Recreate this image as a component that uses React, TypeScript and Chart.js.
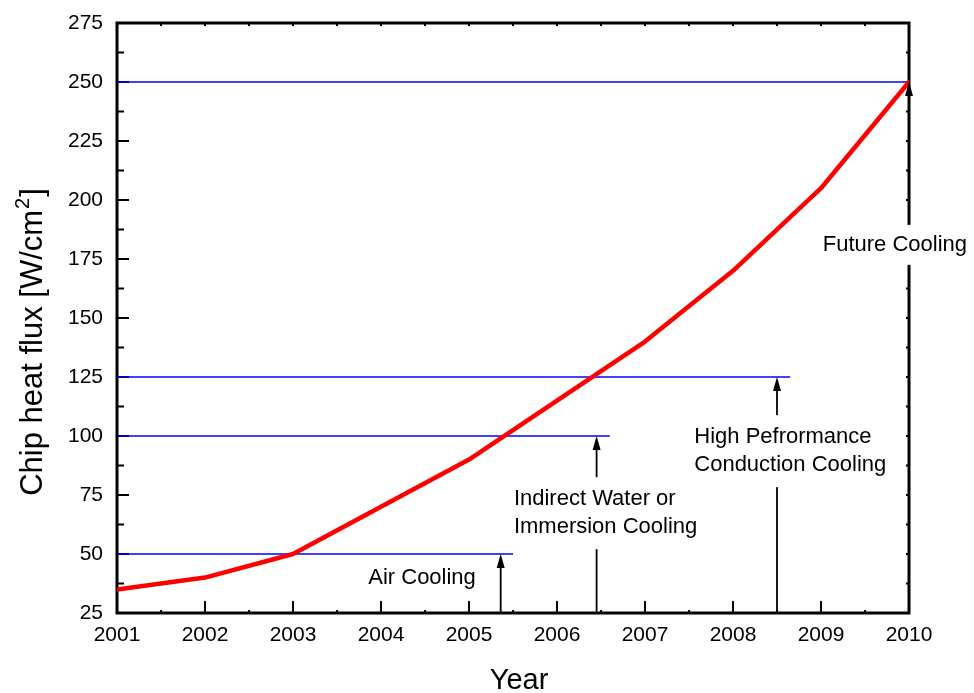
import React, { useEffect, useRef } from "react";
import { Chart, registerables } from "chart.js";

Chart.register(...registerables);

const years = [2001, 2002, 2003, 2004, 2005, 2006, 2007, 2008, 2009, 2010];
const heatFlux = [35, 40, 50, 70, 90, 115, 140, 170, 205, 250];
const fluxTicks = [25, 50, 75, 100, 125, 150, 175, 200, 225, 250, 275];

// Upper limit of each cooling technology (W/cm²) and the year its reference line runs to
const coolingLimits = [50, 100, 125, 250];
const limitLineEnds = [2005.5, 2006.6, 2008.65, 2010];
const arrowYears = [2005.36, 2006.45, 2008.5, 2010];
const coolingLabels = [
  ["Air Cooling"],
  ["Indirect Water or", "Immersion Cooling"],
  ["High Pefrormance", "Conduction Cooling"],
  ["Future Cooling"],
];
// Label anchors: left edge (year) and vertical centre (W/cm²)
const labelYears = [2003.855, 2005.51, 2007.56, 2009.02];
const labelFlux = [40, 67.3, 93.6, 181];

const FONT = "'Liberation Sans', Arial, Helvetica, sans-serif";

const seg = (ctx: any, x1: number, y1: number, x2: number, y2: number) => {
  ctx.beginPath();
  ctx.moveTo(x1, y1);
  ctx.lineTo(x2, y2);
  ctx.stroke();
};

// Frame and inward tick marks, drawn underneath the data lines
const frame = {
  id: "frame",
  beforeDatasetsDraw(chart: any) {
    const { ctx, chartArea: a, scales } = chart;
    const xs = scales.x;
    const ys = scales.y;
    ctx.save();
    ctx.strokeStyle = "#000";
    ctx.lineWidth = 2;
    fluxTicks.forEach((v, i) => {
      const py = ys.getPixelForValue(v);
      seg(ctx, a.left, py, a.left + 12, py);
      seg(ctx, a.right, py, a.right - 3, py);
      if (i < fluxTicks.length - 1) {
        const pm = ys.getPixelForValue(v + 12.5);
        seg(ctx, a.left, pm, a.left + 7, pm);
        seg(ctx, a.right, pm, a.right - 3, pm);
      }
    });
    years.forEach((yr, i) => {
      const px = xs.getPixelForValue(yr);
      seg(ctx, px, a.bottom, px, a.bottom - 12);
      seg(ctx, px, a.top, px, a.top + 3);
      if (i < years.length - 1) {
        const pm = xs.getPixelForValue(yr + 0.5);
        seg(ctx, pm, a.bottom, pm, a.bottom - 3);
        seg(ctx, pm, a.top, pm, a.top + 3);
      }
    });
    ctx.lineWidth = 3;
    ctx.strokeRect(a.left, a.top, a.right - a.left, a.bottom - a.top);
    ctx.restore();
  },
};

// Arrows, annotation labels and axis titles
const annotations = {
  id: "annotations",
  afterDatasetsDraw(chart: any) {
    const { ctx, chartArea: a, scales } = chart;
    const xs = scales.x;
    const ys = scales.y;
    ctx.save();
    ctx.strokeStyle = "#000";
    ctx.fillStyle = "#000";

    ctx.font = `22px ${FONT}`;
    ctx.textAlign = "left";
    ctx.textBaseline = "middle";
    const lineH = 28;
    coolingLimits.forEach((lim, i) => {
      const px = xs.getPixelForValue(arrowYears[i]);
      const tip = ys.getPixelForValue(lim);
      const headLen = 14;
      const headHalf = 4;
      ctx.lineWidth = 1.8;
      seg(ctx, px, a.bottom, px, tip + headLen - 1);
      ctx.beginPath();
      ctx.moveTo(px, tip);
      ctx.lineTo(px - headHalf, tip + headLen);
      ctx.lineTo(px + headHalf, tip + headLen);
      ctx.closePath();
      ctx.fill();

      const lines = coolingLabels[i];
      const left = xs.getPixelForValue(labelYears[i]);
      const cy = ys.getPixelForValue(labelFlux[i]);
      const w = Math.max(...lines.map((t) => ctx.measureText(t).width));
      if (px > left && px < left + w) {
        const half = lines.length * 16 + 4;
        ctx.fillStyle = "#fff";
        ctx.fillRect(px - 4, cy - half, 8, half * 2);
        ctx.fillStyle = "#000";
      }
      lines.forEach((t, k) => {
        ctx.fillText(t, left, cy + (k - (lines.length - 1) / 2) * lineH);
      });
    });

    ctx.textBaseline = "alphabetic";
    ctx.textAlign = "center";
    ctx.font = `29px ${FONT}`;
    ctx.fillText("Year", (a.left + a.right) / 2 + 6, 689);

    ctx.save();
    ctx.translate(42, 342);
    ctx.rotate(-Math.PI / 2);
    ctx.textAlign = "left";
    const main = "Chip heat flux [W/cm";
    const sup = "2";
    const close = "]";
    ctx.font = `31px ${FONT}`;
    const wMain = ctx.measureText(main).width;
    const wClose = ctx.measureText(close).width;
    ctx.font = `20px ${FONT}`;
    const wSup = ctx.measureText(sup).width;
    let x0 = -(wMain + wSup + wClose + 2) / 2;
    ctx.font = `31px ${FONT}`;
    ctx.fillText(main, x0, 0);
    x0 += wMain + 1;
    ctx.font = `20px ${FONT}`;
    ctx.fillText(sup, x0, -13);
    x0 += wSup + 1;
    ctx.font = `31px ${FONT}`;
    ctx.fillText(close, x0, 0);
    ctx.restore();

    ctx.restore();
  },
};

export default function App() {
  const canvasRef = useRef<HTMLCanvasElement>(null);

  useEffect(() => {
    document.body.style.margin = "0";
    const canvas = canvasRef.current;
    if (!canvas) return;
    Chart.defaults.font.family = FONT;
    Chart.defaults.color = "#000";

    const chart = new Chart(canvas, {
      type: "line",
      data: {
        datasets: [
          {
            data: years.map((x, i) => ({ x, y: heatFlux[i] })),
            borderColor: "#ff0000",
            borderWidth: 4.5,
            pointRadius: 0,
            tension: 0,
            borderJoinStyle: "round",
            borderCapStyle: "round",
          },
          ...coolingLimits.map((lim, i) => ({
            data: [
              { x: years[0], y: lim },
              { x: limitLineEnds[i], y: lim },
            ],
            borderColor: "#0000ff",
            borderWidth: 1.5,
            pointRadius: 0,
            tension: 0,
          })),
        ],
      },
      options: {
        responsive: false,
        maintainAspectRatio: false,
        animation: false,
        layout: { padding: { left: 0, right: 65, top: 23, bottom: 0 } },
        plugins: { legend: { display: false }, tooltip: { enabled: false } },
        scales: {
          x: {
            type: "linear",
            min: years[0],
            max: years[years.length - 1],
            grid: { display: false, drawTicks: false },
            border: { display: false },
            ticks: {
              stepSize: 1,
              autoSkip: false,
              maxRotation: 0,
              padding: 10,
              font: { size: 21 },
              color: "#000",
              callback: (v: any) => String(v),
            },
            afterFit: (s: any) => {
              s.height = 80;
              s.paddingLeft = 0;
              s.paddingRight = 0;
            },
          },
          y: {
            type: "linear",
            min: fluxTicks[0],
            max: fluxTicks[fluxTicks.length - 1],
            grid: { display: false, drawTicks: false },
            border: { display: false },
            ticks: {
              stepSize: 25,
              autoSkip: false,
              padding: 14,
              font: { size: 21 },
              color: "#000",
            },
            afterFit: (s: any) => {
              s.width = 117;
              s.paddingTop = 0;
              s.paddingBottom = 0;
            },
          },
        },
      },
      plugins: [frame, annotations],
    } as any);

    return () => chart.destroy();
  }, []);

  return (
    <div style={{ width: 974, height: 693, background: "#fff" }}>
      <canvas ref={canvasRef} width={974} height={693} style={{ display: "block" }} />
    </div>
  );
}
